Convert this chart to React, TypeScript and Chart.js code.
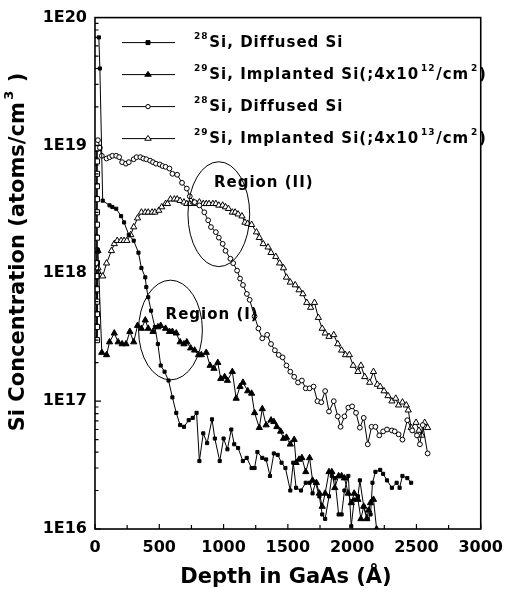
import React, { useEffect, useRef } from 'react';
import { Chart, registerables } from 'chart.js';

Chart.register(...registerables);

// ---------- data ----------
const seriesLabels = [
  '²⁸Si, Diffused Si',
  '²⁹Si, Implanted Si(;4x10¹²/cm²)',
  '²⁸Si, Diffused Si',
  '²⁹Si, Implanted Si(;4x10¹³/cm²)',
];
const xAxisTitle = 'Depth in GaAs (Å)';
const yAxisTitle = 'Si Concentration (atoms/cm³ )';
const regionLabels = ['Region (I)', 'Region (II)'];

// 28Si, diffused (filled squares, lower)
const depthA = [30, 38, 60, 113, 135, 165, 203, 226, 263, 301, 338, 361, 391, 399, 414, 436, 466, 489, 511, 541, 572, 602, 632, 662, 692, 729, 760, 790, 812, 842, 872, 910, 932, 970, 1000, 1030, 1060, 1083, 1113, 1150, 1180, 1218, 1241, 1263, 1301, 1331, 1361, 1391, 1421, 1451, 1481, 1519, 1542, 1564, 1602, 1639, 1669, 1692, 1715, 1745, 1767, 1790, 1820, 1842, 1865, 1895, 1918, 1940, 1970, 1993, 2016, 2045, 2060, 2090, 2121, 2143, 2158, 2181, 2218, 2241, 2271, 2309, 2346, 2369, 2391, 2429, 2459];
const concA = [7.0e19, 4.0e19, 3.7e18, 3.4e18, 3.3e18, 3.2e18, 2.8e18, 2.5e18, 2.0e18, 1.8e18, 1.45e18, 1.1e18, 9.3e17, 7.8e17, 6.5e17, 5.1e17, 3.8e17, 2.8e17, 1.9e17, 1.7e17, 1.45e17, 1.07e17, 8.1e16, 6.5e16, 6.3e16, 7.1e16, 7.4e16, 8.1e16, 3.4e16, 5.6e16, 4.7e16, 7.2e16, 5.1e16, 3.4e16, 5.1e16, 4.2e16, 6.0e16, 4.6e16, 4.3e16, 3.4e16, 3.6e16, 3.0e16, 3.0e16, 4.0e16, 3.6e16, 3.5e16, 2.6e16, 3.9e16, 3.8e16, 3.3e16, 3.0e16, 2.0e16, 3.3e16, 2.1e16, 2.0e16, 2.3e16, 2.3e16, 1.9e16, 2.3e16, 1.8e16, 1.3e16, 1.2e16, 1.8e16, 2.6e16, 2.5e16, 1.3e16, 1.3e16, 2.0e16, 2.6e16, 1.05e16, 1.7e16, 1.8e16, 2.4e16, 1.5e16, 1.2e16, 1.3e16, 2.3e16, 2.8e16, 2.9e16, 2.7e16, 2.4e16, 2.1e16, 2.3e16, 2.1e16, 2.6e16, 2.5e16, 2.3e16];

// 29Si, implanted 4x10^12 (filled triangles)
const depthB = [23, 53, 90, 113, 150, 180, 211, 241, 271, 301, 331, 361, 391, 414, 451, 489, 511, 549, 579, 602, 632, 662, 692, 714, 744, 775, 805, 827, 865, 895, 925, 955, 978, 1008, 1030, 1068, 1098, 1128, 1151, 1188, 1218, 1241, 1278, 1301, 1331, 1369, 1391, 1414, 1444, 1466, 1489, 1519, 1549, 1564, 1587, 1609, 1639, 1669, 1692, 1722, 1745, 1767, 1790, 1820, 1842, 1865, 1895, 1918, 1940, 1970, 1993, 2016, 2045, 2068, 2090, 2113, 2128, 2143, 2166, 2190];
const concB = [1.5e18, 2.4e17, 2.3e17, 2.9e17, 3.4e17, 2.9e17, 2.8e17, 2.8e17, 3.5e17, 2.9e17, 3.9e17, 3.7e17, 4.3e17, 3.7e17, 3.5e17, 3.8e17, 3.9e17, 3.7e17, 3.5e17, 3.5e17, 3.4e17, 2.9e17, 2.8e17, 2.9e17, 2.6e17, 2.5e17, 2.3e17, 2.3e17, 2.4e17, 1.9e17, 1.8e17, 2.0e17, 1.5e17, 1.55e17, 1.45e17, 1.7e17, 1.05e17, 1.3e17, 1.4e17, 1.2e17, 1.15e17, 8.1e16, 6.2e16, 8.7e16, 6.5e16, 7.1e16, 6.9e16, 6.3e16, 5.8e16, 5.1e16, 5.2e16, 4.6e16, 5.0e16, 3.3e16, 3.5e16, 3.6e16, 2.8e16, 3.6e16, 2.4e16, 2.3e16, 1.9e16, 1.5e16, 1.9e16, 2.8e16, 2.8e16, 2.1e16, 2.6e16, 2.6e16, 2.5e16, 1.9e16, 1.6e16, 1.9e16, 1.7e16, 1.2e16, 1.5e16, 1.2e16, 1.4e16, 1.6e16, 1.7e16, 1.0e16];

// 28Si, diffused (open circles, upper)
const depthC = [23, 38, 53, 90, 113, 135, 165, 188, 211, 241, 263, 301, 323, 353, 376, 399, 429, 451, 474, 504, 526, 549, 579, 602, 639, 677, 714, 737, 775, 812, 850, 880, 902, 940, 963, 993, 1015, 1053, 1075, 1105, 1128, 1151, 1181, 1203, 1241, 1271, 1301, 1339, 1369, 1399, 1429, 1459, 1489, 1519, 1549, 1579, 1609, 1639, 1669, 1700, 1730, 1760, 1790, 1820, 1857, 1888, 1910, 1940, 1970, 2000, 2030, 2060, 2090, 2121, 2151, 2181, 2211, 2241, 2271, 2309, 2331, 2361, 2391, 2429, 2467, 2504, 2527, 2549, 2587];
const concC = [1.1e19, 9.6e18, 8.3e18, 7.9e18, 8.1e18, 8.3e18, 8.3e18, 8.1e18, 7.4e18, 7.2e18, 7.4e18, 7.8e18, 8.1e18, 8.1e18, 7.9e18, 7.8e18, 7.6e18, 7.4e18, 7.2e18, 7.1e18, 6.9e18, 6.8e18, 6.6e18, 6.0e18, 5.9e18, 5.1e18, 4.6e18, 4.0e18, 3.6e18, 3.4e18, 3.0e18, 2.6e18, 2.3e18, 2.1e18, 1.9e18, 1.7e18, 1.5e18, 1.3e18, 1.2e18, 1.05e18, 9.1e17, 8.1e17, 6.9e17, 6.2e17, 4.6e17, 3.7e17, 3.1e17, 3.3e17, 2.8e17, 2.5e17, 2.3e17, 2.2e17, 1.9e17, 1.7e17, 1.55e17, 1.4e17, 1.45e17, 1.26e17, 1.26e17, 1.3e17, 1.0e17, 9.8e16, 1.2e17, 8.3e16, 1.0e17, 7.6e16, 6.3e16, 7.6e16, 8.9e16, 9.1e16, 8.1e16, 6.2e16, 7.4e16, 4.6e16, 6.3e16, 6.3e16, 5.4e16, 5.8e16, 6.0e16, 5.9e16, 5.8e16, 5.5e16, 5.0e16, 7.1e16, 5.9e16, 5.4e16, 4.6e16, 6.5e16, 3.9e16];

// 29Si, implanted 4x10^13 (open triangles); first points are the surface column
const depthD = [15, 15, 15, 15, 15, 15, 15, 15, 15, 15, 15, 15, 15, 15, 15, 15, 23, 60, 90, 128, 150, 173, 203, 226, 248, 278, 301, 331, 361, 391, 414, 444, 466, 496, 519, 549, 564, 587, 617, 639, 662, 692, 714, 737, 767, 790, 812, 842, 865, 887, 917, 940, 963, 993, 1015, 1038, 1068, 1090, 1113, 1143, 1166, 1188, 1218, 1256, 1278, 1308, 1346, 1369, 1406, 1436, 1466, 1489, 1519, 1557, 1587, 1617, 1647, 1677, 1707, 1737, 1767, 1790, 1820, 1857, 1888, 1918, 1948, 1978, 2008, 2045, 2068, 2098, 2136, 2166, 2196, 2218, 2248, 2279, 2309, 2339, 2361, 2391, 2421, 2436, 2459, 2497, 2519, 2542, 2564, 2587];
const concD = [9.5e18, 7.5e18, 6.0e18, 4.8e18, 3.8e18, 3.0e18, 2.4e18, 1.9e18, 1.5e18, 1.2e18, 9.5e17, 7.5e17, 6.0e17, 4.8e17, 3.8e17, 3.0e17, 1.1e18, 9.5e17, 1.2e18, 1.5e18, 1.7e18, 1.8e18, 1.8e18, 1.8e18, 1.8e18, 2.0e18, 2.3e18, 2.7e18, 3.0e18, 3.0e18, 3.0e18, 3.0e18, 3.0e18, 3.1e18, 3.3e18, 3.5e18, 3.5e18, 3.8e18, 3.8e18, 3.8e18, 3.7e18, 3.6e18, 3.5e18, 3.5e18, 3.6e18, 3.5e18, 3.6e18, 3.5e18, 3.5e18, 3.5e18, 3.5e18, 3.5e18, 3.4e18, 3.4e18, 3.3e18, 3.2e18, 3.0e18, 3.0e18, 2.9e18, 2.8e18, 2.5e18, 2.45e18, 2.4e18, 2.1e18, 1.9e18, 1.7e18, 1.6e18, 1.45e18, 1.35e18, 1.2e18, 1.1e18, 9.3e17, 8.5e17, 8.1e17, 7.4e17, 6.9e17, 5.9e17, 5.4e17, 5.9e17, 4.5e17, 3.7e17, 3.4e17, 3.2e17, 3.3e17, 2.8e17, 2.5e17, 2.3e17, 2.3e17, 1.9e17, 1.7e17, 1.9e17, 1.55e17, 1.4e17, 1.7e17, 1.35e17, 1.3e17, 1.2e17, 1.1e17, 1.0e17, 1.05e17, 9.3e16, 9.8e16, 9.3e16, 8.5e16, 6.2e16, 6.8e16, 5.9e16, 5.4e16, 6.8e16, 6.2e16];

const xTickValues = [0, 500, 1000, 1500, 2000, 2500, 3000];
const yTickExponents = [16, 17, 18, 19, 20];

// region annotations (ellipse centre in data units, half-size in Å and decades)
const regionCenterDepth = [587, 963];
const regionCenterConc = [3.6e17, 2.9e18];
const regionHalfDepth = [248, 240];
const regionHalfDecades = [0.39, 0.41];
const regionLabelDepth = [549, 925];
const regionLabelConc = [4.7e17, 5.1e18];

// ---------- drawing helpers ----------
const FONT = '"DejaVu Sans", "Liberation Sans", sans-serif';
const SUP = '⁰¹²³⁴⁵⁶⁷⁸⁹';

type Seg = { t: string; sup: boolean };
function toSegs(s: string): Seg[] {
  const out: Seg[] = [];
  for (const ch of s) {
    const i = SUP.indexOf(ch);
    const sup = i >= 0;
    const c = sup ? String(i) : ch;
    const last = out[out.length - 1];
    if (last && last.sup === sup) last.t += c;
    else out.push({ t: c, sup });
  }
  return out;
}

function richLayout(ctx: CanvasRenderingContext2D, s: string, size: number) {
  const segs = toSegs(s);
  let x = 0;
  const items: { t: string; x: number; sup: boolean }[] = [];
  segs.forEach((sg, i) => {
    if (i > 0) x += sg.sup ? size * 0.12 : size * 0.05;
    ctx.font = `bold ${sg.sup ? Math.round(size * 0.6) : size}px ${FONT}`;
    items.push({ t: sg.t, x, sup: sg.sup });
    x += ctx.measureText(sg.t).width;
  });
  return { items, width: x };
}

function drawRich(ctx: CanvasRenderingContext2D, s: string, x: number, y: number, size: number, center = false, spacing = 0) {
  (ctx as any).letterSpacing = spacing + 'px';
  const { items, width } = richLayout(ctx, s, size);
  const x0 = center ? x - width / 2 : x;
  ctx.textAlign = 'left';
  ctx.textBaseline = 'middle';
  for (const it of items) {
    ctx.font = `bold ${it.sup ? Math.round(size * 0.6) : size}px ${FONT}`;
    ctx.fillText(it.t, x0 + it.x, it.sup ? y - size * 0.45 : y);
  }
  (ctx as any).letterSpacing = '0px';
}

function drawMarker(ctx: CanvasRenderingContext2D, style: string, x: number, y: number, r: number, fill: string) {
  ctx.beginPath();
  if (style === 'rect') {
    ctx.rect(x - r, y - r, 2 * r, 2 * r);
  } else if (style === 'circle') {
    ctx.arc(x, y, r, 0, Math.PI * 2);
  } else {
    const h = r * 1.5;
    ctx.moveTo(x, y - h * 0.66);
    ctx.lineTo(x + r, y + h * 0.34);
    ctx.lineTo(x - r, y + h * 0.34);
    ctx.closePath();
  }
  ctx.fillStyle = fill;
  ctx.fill();
  ctx.strokeStyle = '#000';
  ctx.lineWidth = 1;
  ctx.stroke();
}

const markerStyles = ['rect', 'triangle', 'circle', 'triangle'];
const markerRadii = [2.2, 3.6, 2.4, 3.6];
const markerFills = ['#000', '#000', '#fff', '#fff'];

const decorPlugin = {
  id: 'decor',
  afterDraw(chart: any) {
    const { ctx, chartArea: a, scales } = chart;
    const xs = scales.x;
    const ys = scales.y;
    ctx.save();
    ctx.strokeStyle = '#000';
    ctx.fillStyle = '#000';

    // frame
    ctx.lineWidth = 1.6;
    ctx.strokeRect(a.left, a.top, a.right - a.left, a.bottom - a.top);

    // inward ticks
    ctx.lineWidth = 1.2;
    ctx.beginPath();
    for (let v = 0; v <= 3000; v += 250) {
      const px = xs.getPixelForValue(v);
      const len = v % 500 === 0 ? 5 : 4;
      ctx.moveTo(px, a.bottom);
      ctx.lineTo(px, a.bottom - len);
    }
    for (let e = 16; e < 20; e++) {
      for (let m = 1; m <= 9; m++) {
        const py = ys.getPixelForValue(m * Math.pow(10, e));
        const len = m === 1 ? 6 : 3.5;
        ctx.moveTo(a.left, py);
        ctx.lineTo(a.left + len, py);
      }
    }
    ctx.stroke();

    // region ellipses and labels
    ctx.lineWidth = 1;
    for (let i = 0; i < regionLabels.length; i++) {
      const cx = xs.getPixelForValue(regionCenterDepth[i]);
      const cy = ys.getPixelForValue(regionCenterConc[i]);
      const rx = xs.getPixelForValue(regionCenterDepth[i] + regionHalfDepth[i]) - cx;
      const ry = cy - ys.getPixelForValue(regionCenterConc[i] * Math.pow(10, regionHalfDecades[i]));
      ctx.beginPath();
      ctx.ellipse(cx, cy, rx, ry, 0, 0, Math.PI * 2);
      ctx.stroke();
      ctx.fillStyle = '#000';
      drawRich(ctx, regionLabels[i], xs.getPixelForValue(regionLabelDepth[i]), ys.getPixelForValue(regionLabelConc[i]), 15, false, 1);
    }

    // legend
    for (let i = 0; i < seriesLabels.length; i++) {
      const y = a.top + 25 + i * 32;
      ctx.strokeStyle = '#000';
      ctx.lineWidth = 1;
      ctx.beginPath();
      ctx.moveTo(a.left + 27, y);
      ctx.lineTo(a.left + 80, y);
      ctx.stroke();
      drawMarker(ctx, markerStyles[i], a.left + 53, y, markerRadii[i] * 0.9, markerFills[i]);
      ctx.fillStyle = '#000';
      drawRich(ctx, seriesLabels[i], a.left + 99, y + 1, 15, false, 1);
    }

    // axis titles
    ctx.fillStyle = '#000';
    drawRich(ctx, xAxisTitle, 286, 578, 21, true);
    ctx.save();
    ctx.translate(19, 252);
    ctx.rotate(-Math.PI / 2);
    drawRich(ctx, yAxisTitle, 0, 0, 21, true);
    ctx.restore();

    ctx.restore();
  },
};

function makeData(xs: number[], ys: number[]) {
  return xs.map((x, i) => ({ x, y: ys[i] }));
}

export default function App() {
  const ref = useRef<HTMLCanvasElement>(null);

  useEffect(() => {
    document.body.style.margin = '0';
    const canvas = ref.current;
    if (!canvas) return;
    const pairs = [
      [depthA, concA],
      [depthB, concB],
      [depthC, concC],
      [depthD, concD],
    ];
    const datasets = pairs.map(([dx, dy], i) => ({
      label: seriesLabels[i],
      data: makeData(dx, dy),
      showLine: true,
      borderColor: '#000',
      borderWidth: 1,
      backgroundColor: markerFills[i],
      pointBackgroundColor: markerFills[i],
      pointBorderColor: '#000',
      pointBorderWidth: 1,
      pointRadius: markerRadii[i],
      pointStyle: i === 3 ? (c: any) => (c.raw && c.raw.x < 20 ? 'rect' : 'triangle') : markerStyles[i],
      tension: 0,
    }));

    const chart = new Chart(canvas, {
      type: 'scatter',
      data: { datasets },
      options: {
        animation: false,
        responsive: false,
        devicePixelRatio: 1,
        layout: { autoPadding: false, padding: { left: 0, top: 17, right: 20, bottom: 0 } },
        plugins: { legend: { display: false }, tooltip: { enabled: false } },
        scales: {
          x: {
            type: 'linear',
            min: 0,
            max: 3000,
            afterFit: (s: any) => { s.height = 70; },
            afterBuildTicks: (s: any) => { s.ticks = xTickValues.map((v) => ({ value: v })); },
            grid: { display: false, drawTicks: false },
            border: { display: false },
            ticks: {
              color: '#000',
              padding: 9,
              maxRotation: 0,
              autoSkip: false,
              font: { family: FONT, size: 16, weight: 'bold' },
              callback: (v: any) => String(v),
            },
          },
          y: {
            type: 'logarithmic',
            min: 1e16,
            max: 1e20,
            afterFit: (s: any) => { s.width = 95; },
            afterBuildTicks: (s: any) => { s.ticks = yTickExponents.map((e) => ({ value: Math.pow(10, e) })); },
            grid: { display: false, drawTicks: false },
            border: { display: false },
            ticks: {
              color: '#000',
              padding: 8,
              autoSkip: false,
              font: { family: FONT, size: 16, weight: 'bold' },
              callback: (v: any) => '1E' + Math.round(Math.log10(Number(v))),
            },
          },
        },
      },
      plugins: [decorPlugin],
    } as any);
    return () => chart.destroy();
  }, []);

  return <canvas ref={ref} width={512} height={599} style={{ display: 'block' }} />;
}
